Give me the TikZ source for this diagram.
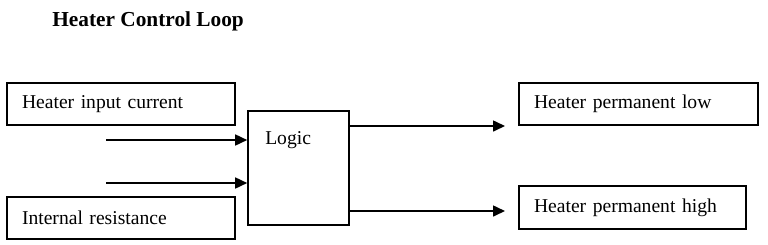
\documentclass[tikz,border=0pt]{standalone}
\usepackage{fontspec}
\setmainfont{Liberation Serif}
\usetikzlibrary{arrows.meta}
\begin{document}
\begin{tikzpicture}[x=0.75pt,y=-0.75pt,
  every node/.style={font=\fontsize{14.7pt}{18pt}\selectfont},
  txtbox/.style={draw, line width=1.2pt, rectangle, inner xsep=11.25pt, inner ysep=0pt, align=left, minimum height=31.5pt},
  plainbox/.style={draw, line width=1.2pt, rectangle, inner sep=0pt},
  conn/.style={line width=1.2pt, -{Triangle[length=9pt,width=8.25pt]}}]
\useasboundingbox (0,0) rectangle (768,244);
\node[anchor=base west, inner sep=0pt, font=\fontsize{16pt}{19pt}\selectfont\bfseries] (title) at (52,26) {Heater Control Loop};
\node[txtbox, text width=148.5pt] (hic) at (121,104) {Heater input current};
\node[txtbox, text width=148.5pt] (ir) at (121,218) {Internal resistance};
\node[plainbox, minimum width=75.75pt, minimum height=85.5pt] (logic) at (298.5,168) {};
\node[anchor=base west, inner sep=0pt] (logictxt) at (265,144) {Logic};
\node[txtbox, text width=156.75pt] (low) at (638.5,104) {Heater permanent low};
\node[txtbox, text width=147.75pt, minimum height=32.25pt] (high) at (632.5,207.5) {Heater permanent high};
\coordinate (in1) at (106,140);
\coordinate (in2) at (106,183);
\coordinate (out1) at (505,126);
\coordinate (out2) at (505,211);
\draw[conn] (in1) -- (in1 -| logic.west);
\draw[conn] (in2) -- (in2 -| logic.west);
\draw[conn] (logic.east |- out1) -- (out1);
\draw[conn] (logic.east |- out2) -- (out2);
\end{tikzpicture}
\end{document}
